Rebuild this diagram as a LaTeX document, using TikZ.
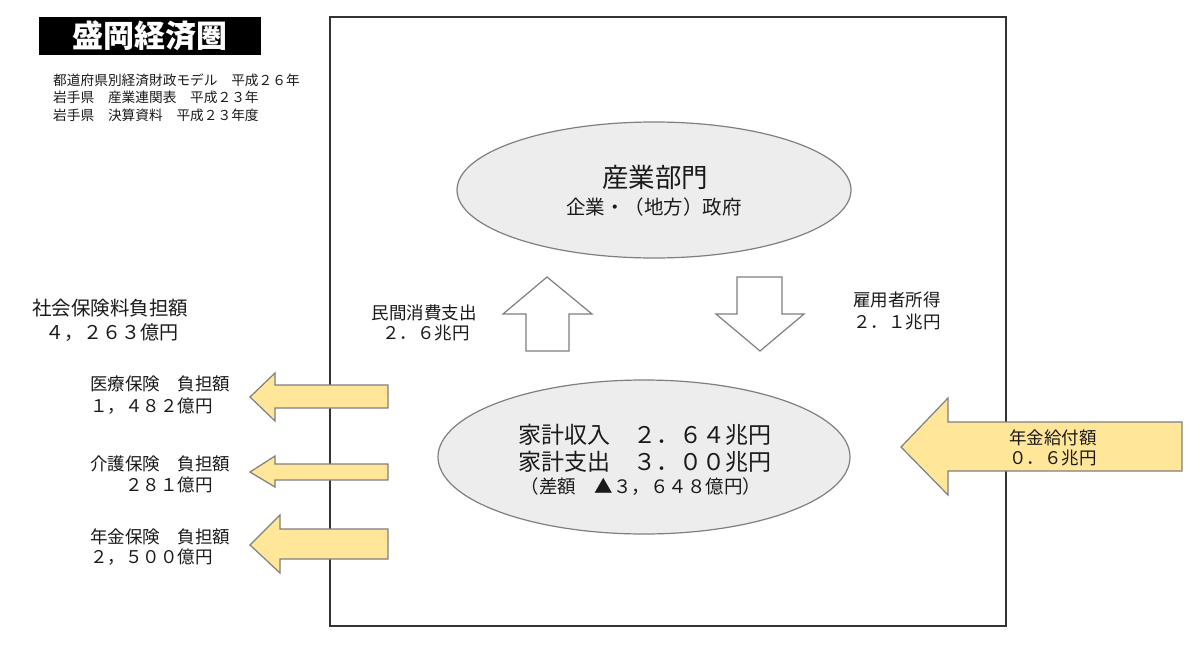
\documentclass[tikz,border=0pt]{standalone}
\usepackage{fontspec}
\setmainfont{Noto Sans CJK JP}
\usepackage{xcolor}
\usepackage{tikz}
\usetikzlibrary{positioning,shapes.geometric}
\definecolor{mkink}{HTML}{1A1A1A}
\definecolor{mkframe}{HTML}{333333}
\definecolor{mkpale}{HTML}{EDEDED}
\definecolor{mkline}{HTML}{7F7F7F}
\definecolor{mkyellow}{HTML}{FFE699}
\newcommand{\jp}[1]{\fontsize{#1}{#1}\selectfont}

\begin{document}
\begin{tikzpicture}[x=1pt,y=-1pt,
  txt/.style={text=mkink,inner sep=0pt},
  srcline/.style={txt,anchor=west,font=\jp{13.7}},
  sidelbl/.style={txt,font=\jp{17.5}},
  oval/.style={ellipse,draw=mkline,fill=mkpale,line width=1.2pt,inner sep=0pt},
  titlebox/.style={fill=black,text=white,font=\jp{31}\bfseries,
                   minimum width=222pt,minimum height=38pt,inner sep=0pt},
  wblock/.style={draw=mkline,fill=white,line width=1.2pt,line join=miter},
  yblock/.style={draw=mkline,fill=mkyellow,line width=1.2pt,line join=miter}
]
\useasboundingbox (0,0) rectangle (1200,656);
\fill[white] (0,0) rectangle (1200,656);

% title and sources
\node[titlebox] (title) at (150,36) {盛岡経済圏};
\node[srcline] (srcA) at (53,80) {都道府県別経済財政モデル　平成２６年};
\node[srcline] (srcB) at (53,97.5) {岩手県　産業連関表　平成２３年};
\node[srcline] (srcC) at (53,115) {岩手県　決算資料　平成２３年度};

% region frame
\draw[mkframe,line width=1.6pt] (330,17) rectangle (1006,626);

% sectors
\node[oval,minimum width=394pt,minimum height=136pt] (ind) at (654,190) {};
\node[txt,font=\jp{26.5}] (indA) at (655,177) {産業部門};
\node[txt,font=\jp{19.5}] (indB) at (654,207) {企業・（地方）政府};

\node[oval,minimum width=412pt,minimum height=154pt] (hh) at (644,457) {};
\node[txt,font=\jp{23}] (hhA) at (645,435) {家計収入　２．６４兆円};
\node[txt,font=\jp{23}] (hhB) at (645,462) {家計支出　３．００兆円};
\node[txt,font=\jp{18.5}] (hhC) at (641,487) {（差額　▲３，６４８億円）};

% flows between sectors
\draw[wblock] (547,277) -- (592,314) -- (569,314) -- (569,351) -- (526,351)
  -- (526,314) -- (503,314) -- cycle;
\draw[wblock] (737,277) -- (782,277) -- (782,314) -- (804,314) -- (760,351)
  -- (716,314) -- (737,314) -- cycle;
\node[sidelbl] (consA) at (424,313) {民間消費支出};
\node[sidelbl] (consB) at (426,333) {２．６兆円};
\node[sidelbl] (wageA) at (897,300) {雇用者所得};
\node[sidelbl] (wageB) at (897,322) {２．１兆円};

% social insurance
\node[txt,anchor=west,font=\jp{19.5}] (sicA) at (32,308) {社会保険料負担額};
\node[txt,anchor=west,font=\jp{19}] (sicB) at (45,333) {４，２６３億円};

\draw[yblock] (250,397) -- (275,373) -- (275,385) -- (388,385) -- (388,408)
  -- (275,408) -- (275,421) -- cycle;
\draw[yblock] (250,472) -- (275,456) -- (275,464) -- (388,464) -- (388,480)
  -- (275,480) -- (275,487) -- cycle;
\draw[yblock] (250,545) -- (280,515) -- (280,529) -- (388,529) -- (388,559)
  -- (280,559) -- (280,573) -- cycle;

\node[sidelbl,anchor=west] (medA) at (90,384) {医療保険　負担額};
\node[sidelbl,anchor=east] (medB) at (213,406) {１，４８２億円};
\node[sidelbl,anchor=west] (careA) at (90,464) {介護保険　負担額};
\node[sidelbl,anchor=east] (careB) at (213,485) {２８１億円};
\node[sidelbl,anchor=west] (penA) at (90,537) {年金保険　負担額};
\node[sidelbl,anchor=east] (penB) at (213,557) {２，５００億円};

% pension benefits
\draw[yblock] (901,447) -- (948,398) -- (948,422) -- (1182,422) -- (1182,471)
  -- (948,471) -- (948,495) -- cycle;
\node[sidelbl] (benA) at (1053,438) {年金給付額};
\node[sidelbl] (benB) at (1053,458) {０．６兆円};
\end{tikzpicture}
\end{document}
